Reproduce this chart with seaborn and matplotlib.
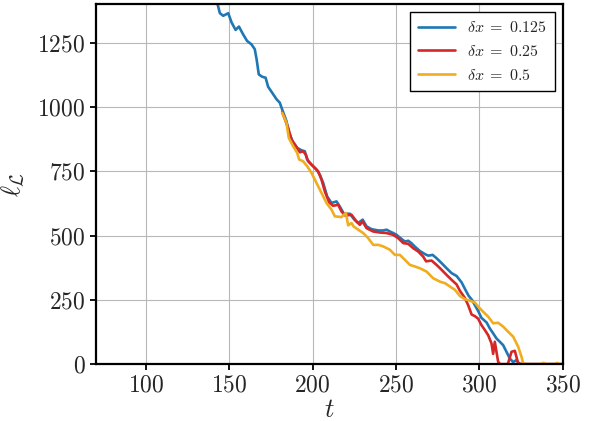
import numpy as np
import pandas as pd
import matplotlib
matplotlib.use("Agg")
import matplotlib.pyplot as plt
import seaborn as sns

# ---- data ----
t_blue = [138, 143, 144.4, 146.4, 149.4, 151.4, 153.8, 155.8, 158.3, 160.7, 163.3, 165.3, 166.4,
          167.7, 169.7, 171.8, 173.3, 175.7, 178.4, 180.3, 181.7, 184.3, 185.9, 188.3, 190.7,
          193.3, 195.3, 196.7, 199.3, 202.3, 204.3, 206.3, 208.7, 211.3, 214.3, 216.3, 218.7,
          222.3, 225.0, 227.3, 230.0, 232.3, 235.3, 239.3, 242.3, 244.3, 246.3, 248.3, 250.3,
          252.7, 255.3, 257.3, 259.3, 261.3, 264.3, 267.3, 269.3, 271.9, 274.3, 277.3, 280.3,
          283.3, 286.3, 289.3, 291.5, 293.5, 295.5, 297.2, 299.2, 301.2, 304.3, 306.2, 308.2,
          310.2, 312.2, 314.2, 316.2, 318.2, 320.2, 322.2, 323.8, 326, 350]
v_blue = [1500, 1400, 1365, 1355, 1365, 1329, 1300, 1313, 1283, 1257, 1244, 1225, 1186,
          1127, 1118, 1114, 1079, 1056, 1030, 1017, 991, 945, 900, 861, 841,
          832, 828, 796, 776, 757, 737, 705, 652, 627, 633, 613, 585,
          585, 562, 549, 562, 536, 525, 520, 520, 523, 516, 510, 503,
          490, 477, 480, 470, 457, 440, 428, 422, 425, 412, 393, 373,
          354, 343, 318, 290, 266, 250, 230, 207, 180, 162, 139, 120,
          100, 87, 74, 48, 22, 8, 16, 2, 0, 0]

t_red = [181.7, 185.3, 187.3, 190.0, 192.3, 194.3, 195.9, 197.3, 200.3, 203.3, 205.3, 207.3,
         209.9, 212.3, 215.3, 217.3, 219.5, 223.3, 226.3, 228.3, 229.9, 232.3, 236.3, 240.3,
         244.3, 248.3, 251.3, 254.3, 257.3, 260.3, 263.3, 266.3, 268.0, 271.3, 274.3, 277.3,
         280.3, 283.3, 286.3, 288.3, 291.2, 293.2, 295.3, 297.2, 299.2, 301.2, 303.2, 305.2,
         307.2, 308.2, 309.2, 310.2, 311.2, 312.5, 317.0, 319.2, 321.2, 323.2, 325, 350]
v_red = [981, 919, 874, 848, 824, 828, 815, 789, 770, 750, 718, 672,
         629, 616, 620, 594, 578, 581, 555, 542, 555, 529, 516, 512,
         510, 503, 490, 471, 468, 451, 438, 418, 400, 403, 386, 367,
         347, 328, 310, 285, 258, 230, 193, 187, 177, 152, 133, 113,
         81, 40, 87, 48, 9, 0, 0, 48, 52, 3, 0, 0]

t_yel = [181.7, 184.3, 185.7, 188.3, 190.7, 191.9, 194.3, 196.7, 199.3, 202.3, 205.3, 208.3,
         211.3, 213.3, 217.3, 219.9, 221.3, 223.3, 224.5, 227.3, 230.3, 233.3, 236.3, 239.3,
         242.3, 246.3, 249.3, 252.3, 255.3, 258.3, 261.3, 264.3, 268.3, 272.3, 276.3, 279.3,
         282.3, 285.3, 288.3, 291.2, 294.2, 297.2, 299.2, 302.2, 305.2, 308.2, 311.2, 314.2,
         317.2, 320.2, 323.2, 325.2, 326.2, 328, 337, 338.5, 340, 345, 346.5, 348, 350]
v_yel = [978, 939, 880, 848, 822, 796, 789, 770, 744, 705, 666, 627,
         601, 575, 572, 588, 540, 549, 536, 523, 510, 490, 464, 464,
         458, 445, 425, 425, 406, 386, 380, 373, 360, 334, 321, 315,
         302, 289, 265, 253, 247, 240, 224, 204, 185, 159, 161, 146,
         126, 107, 68, 29, 3, 0, 0, 5, 0, 0, 5, 0, 0]

labels = [r"$\delta x\;=\;0.125$", r"$\delta x\;=\;0.25$", r"$\delta x\;=\;0.5$"]
colors = ["#1f77b4", "#d62728", "#efad1f"]

df = pd.concat([
    pd.DataFrame({"t": t_blue, "l": v_blue, "s": labels[0]}),
    pd.DataFrame({"t": t_red, "l": v_red, "s": labels[1]}),
    pd.DataFrame({"t": t_yel, "l": v_yel, "s": labels[2]}),
], ignore_index=True)

# ---- style ----
sns.set_style("ticks")
plt.rcParams["font.family"] = "serif"
plt.rcParams["font.serif"] = ["cmr10", "DejaVu Serif"]
plt.rcParams["mathtext.fontset"] = "cm"
plt.rcParams["axes.formatter.use_mathtext"] = True
plt.rcParams["axes.unicode_minus"] = False

fig = plt.figure(figsize=(5.95, 4.21), dpi=100)
ax = fig.add_axes([0.161, 0.135, 0.785, 0.855])

sns.lineplot(data=df, x="t", y="l", hue="s", palette=colors, hue_order=labels,
             estimator=None, sort=False, lw=1.9, ax=ax)

ax.set_xlim(70, 350)
ax.set_ylim(0, 1400)
ax.set_xticks([100, 150, 200, 250, 300, 350])
ax.set_yticks([0, 250, 500, 750, 1000, 1250])
ax.grid(True, color="#b8b8b8", lw=0.8)
ax.set_axisbelow(True)
for sp in ax.spines.values():
    sp.set_visible(True)
    sp.set_linewidth(1.6)
    sp.set_color("black")
ax.tick_params(axis="both", labelsize=17, length=4, width=1.3, direction="out", color="black")

ax.set_xlabel(r"$t$", fontsize=19, labelpad=1)
ax.set_ylabel(r"$\ell_{\mathcal{L}}$", fontsize=19, labelpad=8)

leg = ax.legend(loc="upper right", fontsize=11.5, frameon=True, fancybox=False,
                edgecolor="black", framealpha=1, handlelength=2.3, borderaxespad=0.5,
                labelspacing=0.55, handletextpad=0.8, borderpad=0.5)
leg.get_frame().set_linewidth(1.0)
leg.set_title(None)

fig.savefig("out.png", dpi=100)
